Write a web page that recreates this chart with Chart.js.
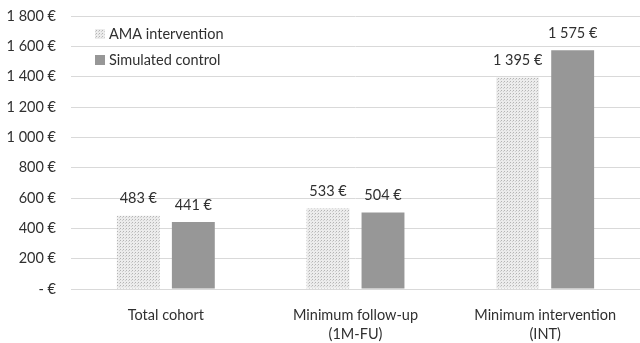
<!DOCTYPE html>
<html>
<head>
<meta charset="utf-8">
<script src="https://cdn.jsdelivr.net/npm/chart.js@4/dist/chart.umd.min.js"></script>
<style>
  html, body { margin: 0; padding: 0; background: #ffffff; }
  #wrap { width: 640px; height: 343px; overflow: hidden; }
</style>
</head>
<body>
<div id="wrap"><canvas id="c" width="640" height="343"></canvas></div>
<script>
// Cost per patient by cohort
const categories = [["Total cohort"], ["Minimum follow-up", "(1M-FU)"], ["Minimum intervention", "(INT)"]];
const seriesNames = ["AMA intervention", "Simulated control"];
const amaIntervention = [483, 533, 1395];
const simulatedControl = [441, 504, 1575];
const yTicks = [0, 200, 400, 600, 800, 1000, 1200, 1400, 1600, 1800];

const FONT = "Lato, 'Open Sans', sans-serif";
const FS = 14.5;
const TEXT = "#303030";

function euro(v) {
  if (v === 0) return "- €";
  return String(Math.round(v)).replace(/\B(?=(\d{3})+(?!\d))/g, " ") + " €";
}

// Light dotted fill used for the intervention series
function dotPattern() {
  const p = document.createElement("canvas");
  p.width = 3; p.height = 3;
  const g = p.getContext("2d");
  g.fillStyle = "#ececec";
  g.fillRect(0, 0, 3, 3);
  g.fillStyle = "#b4b4b4";
  g.fillRect(0, 0, 1, 1);
  g.fillStyle = "#cfcfcf";
  g.fillRect(2, 1, 1, 1);
  return document.getElementById("c").getContext("2d").createPattern(p, "repeat");
}
const dots = dotPattern();
const solid = "#979797";

const valueLabels = {
  id: "valueLabels",
  afterDatasetsDraw(chart) {
    const ctx = chart.ctx;
    ctx.save();
    ctx.font = FS + "px " + FONT;
    ctx.fillStyle = TEXT;
    ctx.textAlign = "center";
    ctx.textBaseline = "middle";
    chart.data.datasets.forEach((ds, i) => {
      chart.getDatasetMeta(i).data.forEach((bar, j) => {
        ctx.fillText(euro(ds.data[j]), bar.x, bar.y - 17);
      });
    });
    ctx.restore();
  }
};

const insideLegend = {
  id: "insideLegend",
  afterDraw(chart) {
    const ctx = chart.ctx;
    const fills = [dots, solid];
    ctx.save();
    ctx.font = FS + "px " + FONT;
    ctx.textBaseline = "middle";
    ctx.textAlign = "left";
    seriesNames.forEach((name, i) => {
      const y = 34 + i * 26;
      ctx.fillStyle = fills[i];
      ctx.fillRect(95, y - 5, 10, 10);
      ctx.fillStyle = TEXT;
      ctx.fillText(name, 109, y);
    });
    ctx.restore();
  }
};

new Chart(document.getElementById("c"), {
  type: "bar",
  data: {
    labels: categories,
    datasets: [
      { label: seriesNames[0], data: amaIntervention, backgroundColor: dots, borderWidth: 0 },
      { label: seriesNames[1], data: simulatedControl, backgroundColor: solid, borderWidth: 0 }
    ]
  },
  options: {
    responsive: false,
    animation: false,
    devicePixelRatio: 1,
    layout: { padding: { top: 16, right: -4, bottom: 0, left: 0 } },
    categoryPercentage: 0.58,
    barPercentage: 0.78,
    plugins: {
      legend: { display: false },
      tooltip: { enabled: false }
    },
    scales: {
      x: {
        grid: { display: false, drawTicks: false },
        border: { display: true, color: "#d9d9d9", width: 1 },
        afterFit(scale) { scale.height = 54; },
        ticks: {
          color: TEXT,
          font: { family: FONT, size: FS, lineHeight: 1.3 },
          padding: 17,
          maxRotation: 0,
          autoSkip: false
        }
      },
      y: {
        min: 0,
        max: 1800,
        afterBuildTicks(scale) { scale.ticks = yTicks.map(v => ({ value: v })); },
        afterFit(scale) { scale.width = 71; scale.paddingTop = 0; },
        grid: { color: "#d9d9d9", lineWidth: 1, drawTicks: false },
        border: { display: false },
        ticks: {
          color: TEXT,
          font: { family: FONT, size: FS },
          padding: 15,
          callback: (v) => euro(v)
        }
      }
    }
  },
  plugins: [valueLabels, insideLegend]
});
</script>
</body>
</html>
